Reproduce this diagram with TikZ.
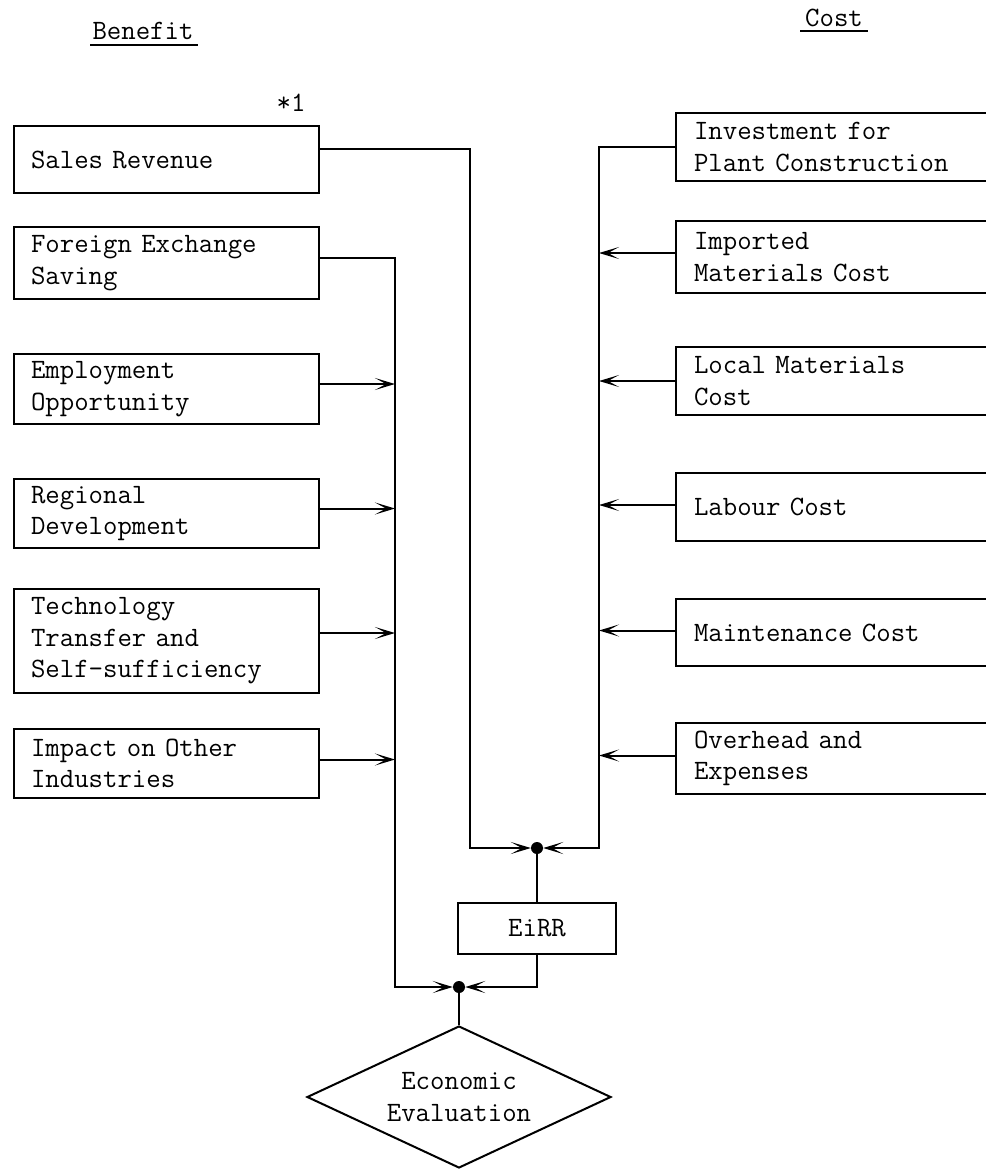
\documentclass[tikz,border=0pt]{standalone}
\usetikzlibrary{arrows.meta,shapes.geometric,calc}
\begin{document}
\begin{tikzpicture}[x=1pt,y=1pt,
  every node/.style={font=\ttfamily\fontsize{28}{31.5}\selectfont},
  lbox/.style={draw,line width=2pt,rectangle,anchor=north west,text width=271pt,inner xsep=17pt,inner ysep=2pt,align=left},
  rbox/.style={draw,line width=2pt,rectangle,anchor=north west,text width=294pt,inner xsep=18pt,inner ysep=2pt,align=left},
  conn/.style={line width=2pt},
  arr/.style={line width=2pt,-{Stealth[length=20pt,width=12pt,inset=11pt]}},
  dot/.style={circle,fill,inner sep=0pt,minimum size=12pt}]
\useasboundingbox (0,0) rectangle (986,-1171);
\clip (0,0) rectangle (986,-1171);

% headings
\node[inner sep=0pt] (ben) at (143,-31) {Benefit};
\draw[line width=1.6pt] (90,-45) -- (198,-45);
\node[inner sep=0pt] (cost) at (834,-18) {Cost};
\draw[line width=1.6pt] (800,-31) -- (868,-31);
\node[inner sep=0pt] (star) at (291,-103) {*1};

% benefit boxes
\node[lbox,minimum height=67pt] (sales) at (13,-125) {Sales Revenue};
\node[lbox,minimum height=72pt] (fes) at (13,-226) {Foreign Exchange\\Saving};
\node[lbox,minimum height=70pt] (emp) at (13,-353) {Employment\\Opportunity};
\node[lbox,minimum height=69pt] (reg) at (13,-478) {Regional\\Development};
\node[lbox,minimum height=104pt] (tech) at (13,-588) {Technology\\Transfer and\\Self-sufficiency};
\node[lbox,minimum height=69pt] (imp) at (13,-728) {Impact on Other\\Industries};

% cost boxes
\node[rbox,minimum height=68pt] (inv) at (675,-112) {Investment for\\Plant Construction};
\node[rbox,minimum height=72pt] (imc) at (675,-220) {Imported\\Materials Cost};
\node[rbox,minimum height=68pt] (loc) at (675,-346) {Local Materials\\Cost};
\node[rbox,minimum height=68pt] (lab) at (675,-472) {Labour Cost};
\node[rbox,minimum height=67pt] (mnt) at (675,-598) {Maintenance Cost};
\node[rbox,minimum height=71pt] (ovh) at (675,-722) {Overhead and\\Expenses};

% junctions, EiRR, evaluation
\node[dot] (j1) at (537,-848) {};
\node[draw,line width=2pt,minimum width=158pt,minimum height=51pt] (eirr) at (537,-928.5) {EiRR};
\node[dot] (j2) at (459,-987) {};
\node[draw,line width=2pt,diamond,shape aspect=2.14,minimum width=304pt,minimum height=142pt,inner sep=0pt,align=center] (eval) at (459,-1097) {Economic\\Evaluation};

% trunk coordinates
\coordinate (lvbot) at (395,-987);
\coordinate (svbot) at (470,-848);
\coordinate (rvbot) at (599,-848);

% trunks
\draw[arr] ([yshift=11pt]sales.east) -| (svbot) -- (j1);
\draw[arr] ([yshift=5pt]fes.east) -| (lvbot) -- (j2);
\draw[arr] (inv.west) -| (rvbot) -- (j1);

% benefit feeders
\draw[arr] ([yshift=5pt]emp.east) -- ([yshift=5pt]emp.east -| lvbot);
\draw[arr] ([yshift=5pt]reg.east) -- ([yshift=5pt]reg.east -| lvbot);
\draw[arr] ([yshift=8pt]tech.east) -- ([yshift=8pt]tech.east -| lvbot);
\draw[arr] ([yshift=4pt]imp.east) -- ([yshift=4pt]imp.east -| lvbot);

% cost feeders
\draw[arr] ([yshift=4pt]imc.west) -- ([yshift=4pt]imc.west -| rvbot);
\draw[arr] (loc.west) -- (loc.west -| rvbot);
\draw[arr] ([yshift=2pt]lab.west) -- ([yshift=2pt]lab.west -| rvbot);
\draw[arr] ([yshift=2pt]mnt.west) -- ([yshift=2pt]mnt.west -| rvbot);
\draw[arr] ([yshift=3pt]ovh.west) -- ([yshift=3pt]ovh.west -| rvbot);

% lower links
\draw[conn] (j1) -- (eirr.north);
\draw[arr] (eirr.south) |- (j2);
\draw[conn] (j2) -- (eval.north);
\end{tikzpicture}
\end{document}
